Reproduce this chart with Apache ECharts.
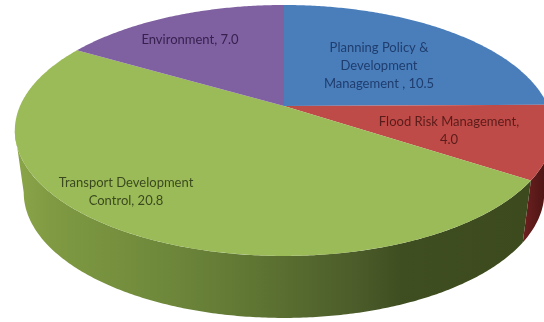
<!DOCTYPE html>
<html>
<head>
<meta charset="utf-8">
<style>html,body{margin:0;padding:0;background:#fff}#chart{width:544px;height:322px}</style>
<script src="https://cdn.jsdelivr.net/npm/echarts@6/dist/echarts.min.js"></script>
</head>
<body>
<div id="chart"></div>
<script>
// Slices run clockwise from twelve o'clock.
const categories = ['Planning Policy &\nDevelopment\nManagement ', 'Flood Risk Management,\n', 'Transport Development\nControl,', 'Environment,'];
const values = [10.5, 4.0, 20.8, 7.0];
const topColors = ['#4a7ebb', '#be4b48', '#9bbb59', '#7f60a1'];
const labelColors = ['#1f3d6e', '#5a1c1a', '#3b4a1e', '#37214f'];
const labelAnchors = [[379, 65.5], [449, 131], [126, 192], [190, 39.5]];

// Perspective disc: hub position, radii, foreshortening, wall height and base narrowing.
const hub = { x: 284, y: 106, rx: 264, ry: 120.7, k: 0.195, depth: 62, baseScale: 0.967 };
const total = values.reduce((a, b) => a + b, 0);

// The wall is only seen between the two points where the rim turns away from the viewer.
const wallStart = Math.acos(-hub.k);
const wallEnd = Math.PI * 2 - wallStart;

function project(angle, drop, scale) {
  const u = Math.sin(angle), v = Math.cos(angle);
  const w = 1 + hub.k * v;
  return [hub.x + scale * hub.rx * u / w, hub.y - hub.ry * v / w + drop];
}

function rim(a0, a1, drop, scale) {
  const steps = Math.max(2, Math.ceil(Math.abs(a1 - a0) / 0.01));
  const pts = [];
  for (let i = 0; i <= steps; i++) pts.push(project(a0 + (a1 - a0) * i / steps, drop, scale));
  return pts;
}

const wallFills = [
  '#2f4d76',
  new echarts.graphic.LinearGradient(525, 0, 544, 0, [
    { offset: 0, color: '#6a1f1e' }, { offset: 1, color: '#4f1615' }
  ], true),
  new echarts.graphic.LinearGradient(15, 0, 530, 0, [
    { offset: 0, color: '#8aa549' },
    { offset: 0.07, color: '#7f9a42' },
    { offset: 0.27, color: '#708a3c' },
    { offset: 0.46, color: '#5f7633' },
    { offset: 0.66, color: '#4c5c2a' },
    { offset: 0.75, color: '#3f4e20' },
    { offset: 1, color: '#3c4a1d' }
  ], true),
  '#4d3a63'
];

function renderSlice(params, api) {
  const i = params.dataIndex;
  let before = 0;
  for (let j = 0; j < i; j++) before += values[j];
  const a0 = before / total * Math.PI * 2;
  const a1 = (before + api.value(0)) / total * Math.PI * 2;
  const topEdge = rim(a0, a1, 0, 1);
  const top = [[hub.x, hub.y]].concat(topEdge);
  const valueText = api.value(0).toFixed(1);
  const sep = categories[i].endsWith('\n') ? '' : (categories[i].endsWith(',') ? ' ' : ', ');
  const children = [];
  const w0 = Math.max(a0, wallStart), w1 = Math.min(a1, wallEnd);
  if (w1 > w0) {
    const wall = rim(w0, w1, 0, 1).concat(rim(w1, w0, hub.depth, hub.baseScale));
    children.push({ type: 'polygon', z2: 1, shape: { points: wall }, style: { fill: wallFills[i] } });
  }
  children.push(
    { type: 'polygon', z2: 10, shape: { points: top }, style: { fill: topColors[i] } },
    {
      type: 'text', z2: 20,
      x: labelAnchors[i][0], y: labelAnchors[i][1],
      style: {
        text: categories[i] + sep + valueText,
        fill: labelColors[i],
        font: '13px Lato, "Open Sans", sans-serif',
        lineHeight: 18,
        align: 'center',
        verticalAlign: 'middle'
      }
    }
  );
  return { type: 'group', children };
}

const chart = echarts.init(document.getElementById('chart'), null, { renderer: 'canvas' });
chart.setOption({
  animation: false,
  backgroundColor: '#ffffff',
  series: [{
    type: 'custom',
    coordinateSystem: 'none',
    renderItem: renderSlice,
    clip: false,
    silent: true,
    data: values.map(v => [v])
  }]
});
</script>
</body>
</html>
